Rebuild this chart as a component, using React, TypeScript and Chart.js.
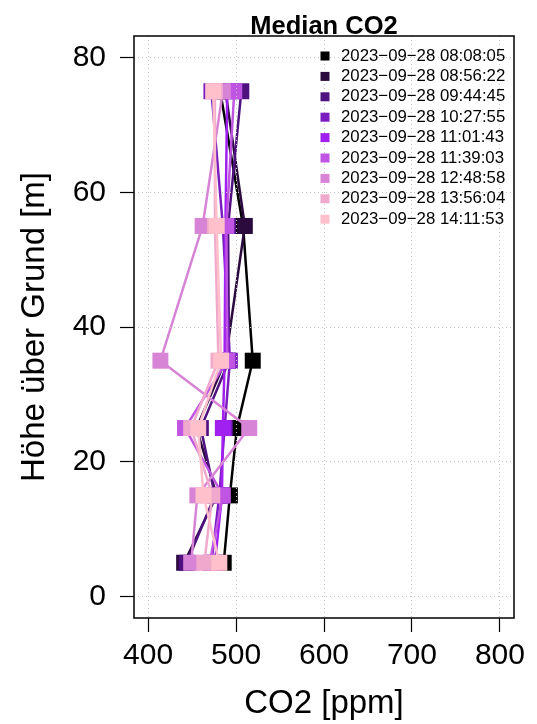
import { useEffect, useRef } from "react";
import { Chart, registerables } from "chart.js";

Chart.register(...registerables);

const FONT = "'Liberation Sans', Arial, Helvetica, sans-serif";

// heights above ground [m]
const heights = [5, 15, 25, 35, 55, 75];

// time stamps of the profiles
const timeLabels = [
  "2023\u221209\u221228 08:08:05",
  "2023\u221209\u221228 08:56:22",
  "2023\u221209\u221228 09:44:45",
  "2023\u221209\u221228 10:27:55",
  "2023\u221209\u221228 11:01:43",
  "2023\u221209\u221228 11:39:03",
  "2023\u221209\u221228 12:48:58",
  "2023\u221209\u221228 13:56:04",
  "2023\u221209\u221228 14:11:53",
];

const colors = [
  "#000000",
  "#2b0a3e",
  "#4f1180",
  "#7a1cc0",
  "#a020f0",
  "#bf55e2",
  "#d884d6",
  "#f0a9cc",
  "#ffc0cb",
];

// median CO2 [ppm] per height (5, 15, 25, 35, 55, 75 m)
const co2_0808 = [486, 493, 501, 519, 508, 482];
const co2_0856 = [441, 478, 455, 488, 510, 488];
const co2_0944 = [444, 476, 460, 492, 491, 506];
const co2_1027 = [472, 481, 487, 493, 485, 472];
const co2_1101 = [476, 484, 485, 487, 488, 490];
const co2_1139 = [470, 485, 442, 490, 489, 498];
const co2_1248 = [449, 456, 515, 414, 462, 485];
const co2_1356 = [464, 473, 449, 480, 476, 476];
const co2_1411 = [481, 463, 457, 483, 478, 474];

const seriesValues = [
  co2_0808,
  co2_0856,
  co2_0944,
  co2_1027,
  co2_1101,
  co2_1139,
  co2_1248,
  co2_1356,
  co2_1411,
];

const xTicks = [400, 500, 600, 700, 800];
const yTicks = [0, 20, 40, 60, 80];
const xMin = 384;
const xMax = 816;
const yMin = -3.2;
const yMax = 83.2;

const titleText = "Median CO2";
const xTitle = "CO2 [ppm]";
const yTitle = "Höhe über Grund [m]";

export default function App() {
  const ref = useRef<HTMLCanvasElement>(null);

  useEffect(() => {
    const canvas = ref.current;
    if (!canvas) return;

    const overlay = {
      id: "overlay",
      afterDraw(chart: any) {
        const { ctx, chartArea: a } = chart;
        ctx.save();
        ctx.strokeStyle = "#000";
        ctx.lineWidth = 1.5;
        ctx.strokeRect(a.left, a.top, a.right - a.left, a.bottom - a.top);

        ctx.fillStyle = "#000";
        ctx.textAlign = "center";
        ctx.textBaseline = "alphabetic";
        ctx.font = `bold 25.5px ${FONT}`;
        ctx.fillText(titleText, (a.left + a.right) / 2, 34);

        ctx.font = `33px ${FONT}`;
        ctx.fillText(xTitle, (a.left + a.right) / 2, 713);

        ctx.save();
        ctx.translate(44, (a.top + a.bottom) / 2);
        ctx.rotate(-Math.PI / 2);
        ctx.fillText(yTitle, 0, 0);
        ctx.restore();

        ctx.font = `16.8px ${FONT}`;
        ctx.textAlign = "left";
        ctx.textBaseline = "middle";
        timeLabels.forEach((lab, i) => {
          const y = 56 + i * 20.4;
          ctx.fillStyle = colors[i];
          ctx.fillRect(325 - 4.5, y - 4.5, 9, 9);
          ctx.fillStyle = "#000";
          ctx.fillText(lab, 341, y);
        });
        ctx.restore();
      },
    };

    const n = seriesValues.length;
    const chart = new Chart(canvas, {
      type: "scatter",
      data: {
        datasets: seriesValues.map((vals, i) => ({
          label: timeLabels[i],
          data: vals.map((v, k) => ({ x: v, y: heights[k] })),
          showLine: true,
          borderColor: colors[i],
          backgroundColor: colors[i],
          borderWidth: 2.5,
          pointStyle: "rect",
          pointRadius: 11.3,
          pointHoverRadius: 11.3,
          pointBorderWidth: 0,
          pointBackgroundColor: colors[i],
          order: n - i,
        })),
      },
      options: {
        responsive: false,
        devicePixelRatio: 1,
        animation: false,
        events: [],
        layout: { padding: { top: 36, right: 23, left: 0, bottom: 0 } },
        plugins: {
          legend: { display: false },
          tooltip: { enabled: false },
          title: { display: false },
        },
        scales: {
          x: {
            type: "linear",
            min: xMin,
            max: xMax,
            afterBuildTicks: (s: any) => {
              s.ticks = xTicks.map((v) => ({ value: v }));
            },
            afterFit: (s: any) => {
              s.height = 106;
            },
            grid: {
              color: "#c4c4c4",
              lineWidth: 1,
              z: 1,
              drawTicks: true,
              tickLength: 14,
              tickColor: "#000",
              tickWidth: 1.2,
            },
            border: { display: false, dash: [1, 3] },
            ticks: {
              font: { family: FONT, size: 30 },
              color: "#000",
              padding: 6,
              maxRotation: 0,
              autoSkip: false,
            },
          },
          y: {
            type: "linear",
            min: yMin,
            max: yMax,
            afterBuildTicks: (s: any) => {
              s.ticks = yTicks.map((v) => ({ value: v }));
            },
            afterFit: (s: any) => {
              s.width = 134;
            },
            grid: {
              color: "#c4c4c4",
              lineWidth: 1,
              z: 1,
              drawTicks: true,
              tickLength: 14,
              tickColor: "#000",
              tickWidth: 1.2,
            },
            border: { display: false, dash: [1, 3] },
            ticks: {
              font: { family: FONT, size: 30 },
              color: "#000",
              padding: 14,
              autoSkip: false,
            },
          },
        },
      },
      plugins: [overlay],
    });

    return () => chart.destroy();
  }, []);

  return (
    <div style={{ position: "absolute", left: 0, top: 0, width: 537, height: 724, background: "#fff" }}>
      <canvas ref={ref} width={537} height={724} style={{ display: "block" }} />
    </div>
  );
}
